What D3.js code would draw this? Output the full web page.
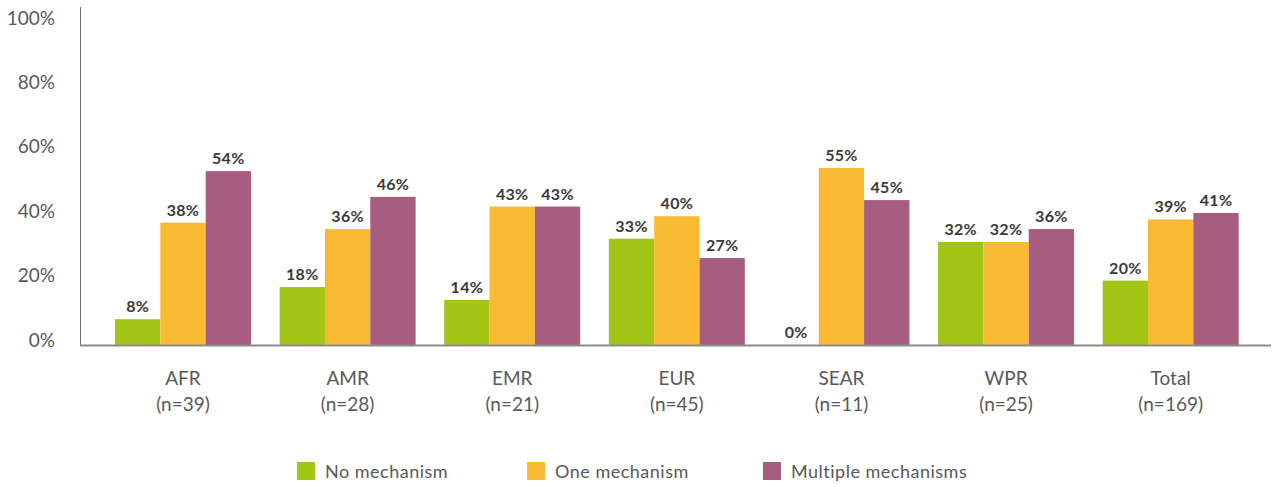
<!DOCTYPE html>
<html>
<head>
<meta charset="utf-8">
<script src="https://cdn.jsdelivr.net/npm/d3@7"></script>
<style>
  body { margin: 0; background: #fff; }
  svg text { font-family: "Lato", "Open Sans", sans-serif; }
  .tick-label { fill: #595959; font-size: 19px; }
  .cat-label { fill: #595959; font-size: 19px; }
  .val-label { fill: #3a3a3a; font-size: 16px; font-weight: 700; letter-spacing: 0.3px; }
  .legend-label { fill: #595959; font-size: 18px; letter-spacing: 0.5px; }
</style>
</head>
<body>
<svg id="chart" width="1272" height="487"></svg>
<script>
var regions = ['AFR', 'AMR', 'EMR', 'EUR', 'SEAR', 'WPR', 'Total'];
var regionN = ['(n=39)', '(n=28)', '(n=21)', '(n=45)', '(n=11)', '(n=25)', '(n=169)'];
var seriesNames = ['No mechanism', 'One mechanism', 'Multiple mechanisms'];
var noMechanism = [8, 18, 14, 33, 0, 32, 20];
var oneMechanism = [38, 36, 43, 40, 55, 32, 39];
var multipleMechanisms = [54, 46, 43, 27, 45, 36, 41];
var yTicks = [0, 20, 40, 60, 80, 100];
var colors = ['#a2c516', '#f9b933', '#a65d80'];

var svg = d3.select('#chart');

var x0 = d3.scaleBand()
    .domain(regions)
    .range([100.7, 1253])
    .paddingInner(0.174)
    .paddingOuter(0.087);

var x1 = d3.scaleBand()
    .domain(seriesNames)
    .range([0, x0.bandwidth()]);

var y = d3.scaleLinear()
    .domain([0, 100])
    .range([345, 23]);

var color = d3.scaleOrdinal().domain(seriesNames).range(colors);

var rows = regions.map(function(r, i) {
    return {
        region: r,
        n: regionN[i],
        values: [noMechanism[i], oneMechanism[i], multipleMechanisms[i]]
    };
});

// y tick labels
svg.append('g')
    .selectAll('text')
    .data(yTicks)
    .join('text')
    .attr('class', 'tick-label')
    .attr('x', 55)
    .attr('y', function(d) { return y(d) - 5; })
    .attr('dy', '0.35em')
    .attr('text-anchor', 'end')
    .text(function(d) { return d + '%'; });

// bars
var groups = svg.append('g')
    .selectAll('g')
    .data(rows)
    .join('g')
    .attr('transform', function(d) { return 'translate(' + x0(d.region) + ',0)'; });

groups.selectAll('rect')
    .data(function(d) {
        return d.values.map(function(v, j) { return { key: seriesNames[j], value: v }; });
    })
    .join('rect')
    .attr('x', function(d) { return x1(d.key); })
    .attr('y', function(d) { return y(d.value); })
    .attr('width', x1.bandwidth())
    .attr('height', function(d) { return y(0) - y(d.value); })
    .attr('fill', function(d) { return color(d.key); });

groups.selectAll('text.val-label')
    .data(function(d) {
        return d.values.map(function(v, j) { return { key: seriesNames[j], value: v }; });
    })
    .join('text')
    .attr('class', 'val-label')
    .attr('x', function(d) { return x1(d.key) + x1.bandwidth() / 2; })
    .attr('y', function(d) { return y(d.value) - 7; })
    .attr('text-anchor', 'middle')
    .text(function(d) { return d.value + '%'; });

// axes lines
svg.append('line')
    .attr('x1', 80.5).attr('x2', 80.5)
    .attr('y1', 7).attr('y2', 345)
    .attr('stroke', '#6e6e6e')
    .attr('stroke-width', 1);

svg.append('line')
    .attr('x1', 80).attr('x2', 1271)
    .attr('y1', 345.5).attr('y2', 345.5)
    .attr('stroke', '#8c8c8c')
    .attr('stroke-width', 2);

// category labels
var cats = svg.append('g')
    .selectAll('text')
    .data(rows)
    .join('text')
    .attr('class', 'cat-label')
    .attr('text-anchor', 'middle')
    .attr('x', function(d) { return x0(d.region) + x0.bandwidth() / 2; });

cats.append('tspan')
    .attr('x', function(d) { return x0(d.region) + x0.bandwidth() / 2; })
    .attr('y', 385)
    .text(function(d) { return d.region; });

cats.append('tspan')
    .attr('x', function(d) { return x0(d.region) + x0.bandwidth() / 2; })
    .attr('y', 411)
    .text(function(d) { return d.n; });

// legend
var legendX = [297, 527, 763];
var legend = svg.append('g')
    .selectAll('g')
    .data(seriesNames)
    .join('g')
    .attr('transform', function(d, i) { return 'translate(' + legendX[i] + ',462)'; });

legend.append('rect')
    .attr('width', 18)
    .attr('height', 18)
    .attr('fill', function(d) { return color(d); });

legend.append('text')
    .attr('class', 'legend-label')
    .attr('x', 28)
    .attr('y', 10)
    .attr('dy', '0.35em')
    .text(function(d) { return d; });
</script>
</body>
</html>
